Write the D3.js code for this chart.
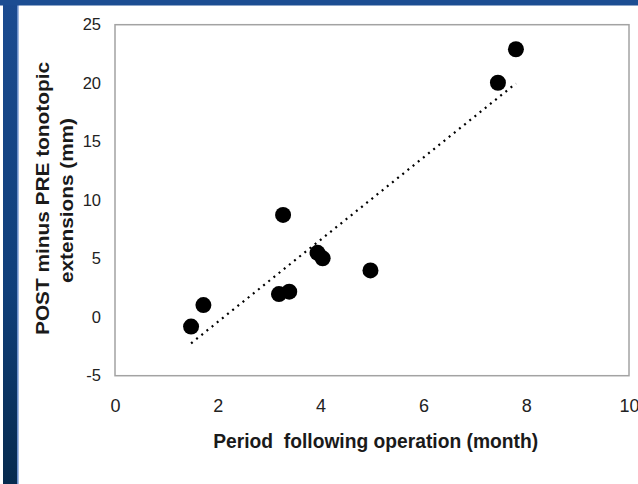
<!DOCTYPE html>
<html>
<head>
<meta charset="utf-8">
<script src="https://cdn.jsdelivr.net/npm/d3@7"></script>
<style>
  html, body { margin: 0; padding: 0; background: #fff; }
  svg { display: block; }
  text { font-family: "Liberation Sans", Arial, sans-serif; }
</style>
</head>
<body>
<div id="chart"></div>
<script>
// months after operation vs change in tonotopic extension (mm)
const months = [1.48, 1.72, 3.19, 3.39, 3.27, 3.94, 4.04, 4.97, 7.45, 7.80];
const extensionChange = [-0.8, 1.04, 1.98, 2.18, 8.74, 5.5, 5.03, 4.0, 20.04, 22.9];
const xTicks = [0, 2, 4, 6, 8, 10];
const yTicks = [-5, 0, 5, 10, 15, 20, 25];

const width = 638, height = 484;
const plot = { left: 115, right: 629, top: 24.7, bottom: 375.7 };

const svg = d3.select('#chart').append('svg')
  .attr('width', width)
  .attr('height', height);

// blue slide frame
const defs = svg.append('defs');
const grad = defs.append('linearGradient')
  .attr('id', 'leftBand')
  .attr('x1', 0).attr('y1', 0).attr('x2', 0).attr('y2', 1);
grad.append('stop').attr('offset', '0%').attr('stop-color', '#1b4b90');
grad.append('stop').attr('offset', '60%').attr('stop-color', '#103f7a');
grad.append('stop').attr('offset', '100%').attr('stop-color', '#062a4e');

svg.append('rect').attr('x', 3).attr('y', 0).attr('width', 14.5).attr('height', height)
  .attr('fill', 'url(#leftBand)');
svg.append('rect').attr('x', 17).attr('y', 5).attr('width', 1.6).attr('height', height - 5)
  .attr('fill', '#6a8fcb');
svg.append('rect').attr('x', 0).attr('y', 0).attr('width', width).attr('height', 5.5)
  .attr('fill', '#1c4d92');

const x = d3.scaleLinear().domain([0, 10]).range([plot.left, plot.right]);
const y = d3.scaleLinear().domain([-5, 25]).range([plot.bottom, plot.top]);

// plot box
svg.append('rect')
  .attr('x', plot.left)
  .attr('y', plot.top)
  .attr('width', plot.right - plot.left)
  .attr('height', plot.bottom - plot.top)
  .attr('fill', 'none')
  .attr('stroke', '#a3a3a3')
  .attr('stroke-width', 1.5);

// plain hyphen for negatives, like the original
const fmt = d => String(d);

const xAxis = svg.append('g')
  .attr('transform', `translate(0,${plot.bottom})`)
  .call(d3.axisBottom(x).tickValues(xTicks).tickFormat(fmt).tickSize(0).tickPadding(24));
const yAxis = svg.append('g')
  .attr('transform', `translate(${plot.left},0)`)
  .call(d3.axisLeft(y).tickValues(yTicks).tickFormat(fmt).tickSize(0).tickPadding(14));

[xAxis, yAxis].forEach(g => {
  g.select('.domain').remove();
  g.selectAll('text')
    .attr('fill', '#222')
    .style('font-family', '"Liberation Sans", Arial, sans-serif');
});
xAxis.selectAll('text').style('font-size', '18px');
yAxis.selectAll('text').style('font-size', '16.5px');

// linear trendline (least squares)
const mx = d3.mean(months), my = d3.mean(extensionChange);
let sxy = 0, sxx = 0;
months.forEach((m, i) => {
  sxy += (m - mx) * (extensionChange[i] - my);
  sxx += (m - mx) * (m - mx);
});
const slope = sxy / sxx;
const intercept = my - slope * mx;
const xExt = d3.extent(months);

const line = d3.line().x(d => x(d[0])).y(d => y(d[1]));
svg.append('path')
  .datum(xExt.map(v => [v, intercept + slope * v]))
  .attr('d', line)
  .attr('fill', 'none')
  .attr('stroke', '#000')
  .attr('stroke-width', 2.2)
  .attr('stroke-dasharray', '2,4.6');

svg.append('g')
  .selectAll('circle')
  .data(months.map((m, i) => [m, extensionChange[i]]))
  .join('circle')
  .attr('cx', d => x(d[0]))
  .attr('cy', d => y(d[1]))
  .attr('r', 8)
  .attr('fill', '#000');

// axis titles
svg.append('text')
  .attr('x', 375.7)
  .attr('y', 447.5)
  .attr('text-anchor', 'middle')
  .attr('font-weight', 'bold')
  .attr('font-size', 20)
  .attr('fill', '#1a1a1a')
  .attr('textLength', 325)
  .attr('lengthAdjust', 'spacingAndGlyphs')
  .style('white-space', 'pre')
  .text('Period  following operation (month)');

const yTitle = svg.append('g')
  .attr('transform', 'translate(0,198.5) rotate(-90)');
yTitle.append('text')
  .attr('x', 0)
  .attr('y', 49.3)
  .attr('text-anchor', 'middle')
  .attr('font-weight', 'bold')
  .attr('font-size', 17.5)
  .attr('fill', '#1a1a1a')
  .attr('textLength', 273)
  .attr('lengthAdjust', 'spacingAndGlyphs')
  .text('POST minus PRE tonotopic');
yTitle.append('text')
  .attr('x', -2)
  .attr('y', 73.3)
  .attr('text-anchor', 'middle')
  .attr('font-weight', 'bold')
  .attr('font-size', 17.5)
  .attr('fill', '#1a1a1a')
  .attr('textLength', 165)
  .attr('lengthAdjust', 'spacingAndGlyphs')
  .text('extensions (mm)');
</script>
</body>
</html>
